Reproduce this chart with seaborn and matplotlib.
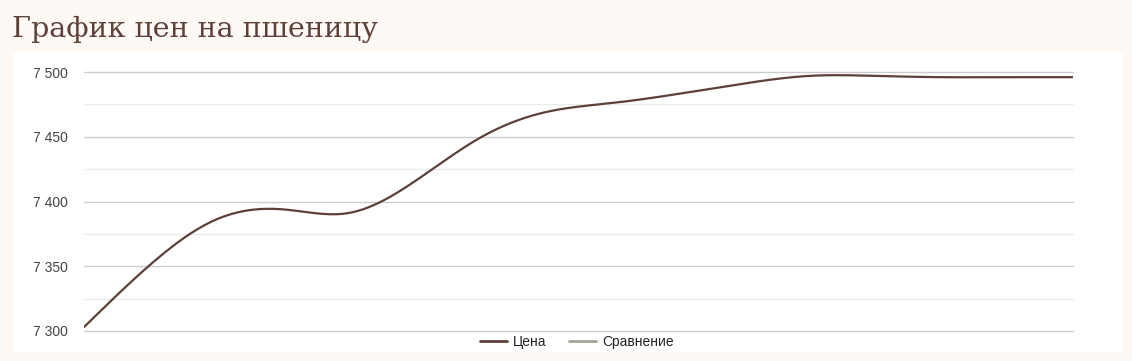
import numpy as np
import pandas as pd
import matplotlib
matplotlib.use("Agg")
import matplotlib.pyplot as plt
from matplotlib.patches import Rectangle
from matplotlib.lines import Line2D
import seaborn as sns

# ---- data ----
title = "График цен на пшеницу"
series_names = ["Цена", "Сравнение"]
price = [7303, 7351, 7386, 7394, 7391, 7415, 7449, 7469,
         7476, 7483, 7491, 7497, 7497, 7496, 7496, 7496]
comparison = []  # no visible values in the reference
y_ticks = [7300, 7350, 7400, 7450, 7500]
y_minor = [7325, 7375, 7425, 7475]

# ---- style ----
W, H = 1132, 361
sns.set_theme(style="white")
plt.rcParams["font.family"] = ["Liberation Sans", "DejaVu Sans"]

BG = "#fff9f5"
LINE = "#5d4037"
CMP = "#a3a592"


def natural_spline(vals, n=40):
    """Smooth curve through the points (like curveType 'function')."""
    y = np.asarray(vals, dtype=float)
    N = len(y)
    A = np.zeros((N, N))
    r = np.zeros(N)
    A[0, 0] = A[-1, -1] = 1.0
    for i in range(1, N - 1):
        A[i, i - 1], A[i, i], A[i, i + 1] = 1.0, 4.0, 1.0
        r[i] = 6.0 * (y[i + 1] - 2 * y[i] + y[i - 1])
    M = np.linalg.solve(A, r)
    xs, ys = [], []
    for i in range(N - 1):
        t = np.linspace(0, 1, n, endpoint=False)
        a = 1 - t
        ys.append(a * y[i] + t * y[i + 1]
                  + ((a**3 - a) * M[i] + (t**3 - t) * M[i + 1]) / 6.0)
        xs.append(i + t)
    xs.append(np.array([N - 1.0]))
    ys.append(np.array([y[-1]]))
    return np.concatenate(xs), np.concatenate(ys)


fig = plt.figure(figsize=(W / 100, H / 100), dpi=100)
fig.patch.set_facecolor(BG)

# white chart panel
fig.patches.append(Rectangle((12.5 / W, (H - 352) / H), (1123 - 12.5) / W, 300 / H,
                             transform=fig.transFigure, facecolor="white",
                             edgecolor="none", zorder=-10))

ax = fig.add_axes([84 / W, (H - 331) / H, (1073 - 84) / W, (331 - 72) / H])
ax.set_zorder(5)
ax.set_facecolor("none")

sx, sy = natural_spline(price)
df = pd.DataFrame({"x": sx, "y": sy})
sns.lineplot(data=df, x="x", y="y", ax=ax, color=LINE, linewidth=1.6,
             estimator=None, sort=False, zorder=3)

ax.set_xlim(0, len(price) - 1)
ax.set_ylim(7300, 7500)
ax.set_yticks(y_ticks)
ax.set_yticklabels([f"{v:,}".replace(",", " ") for v in y_ticks])
ax.set_yticks(y_minor, minor=True)
ax.set_xticks([])
ax.set_xlabel("")
ax.set_ylabel("")
for s in ax.spines.values():
    s.set_visible(False)
ax.tick_params(axis="y", which="both", length=0, pad=11.5, labelsize=10,
               labelcolor="#444444")
ax.grid(False)
for v in y_ticks:
    ax.axhline(v, color="#cccccc", lw=1.0, zorder=1, clip_on=False)
for v in y_minor:
    ax.axhline(v, color="#ebebeb", lw=1.0, zorder=1, clip_on=False)

fig.text(12 / W, (H - 37) / H, title, family=["DejaVu Serif"], fontsize=20.5,
         color=LINE, va="baseline", ha="left")

handles = [Line2D([], [], color=LINE, lw=2), Line2D([], [], color=CMP, lw=2)]
fig.legend(handles, series_names, loc="center", bbox_to_anchor=(577 / W, (H - 342) / H),
           ncol=2, frameon=False, fontsize=10, handlelength=1.95, handletextpad=0.45,
           columnspacing=1.6, labelcolor="#222222", borderpad=0, borderaxespad=0)

fig.savefig("out.png", dpi=100, facecolor=BG)
